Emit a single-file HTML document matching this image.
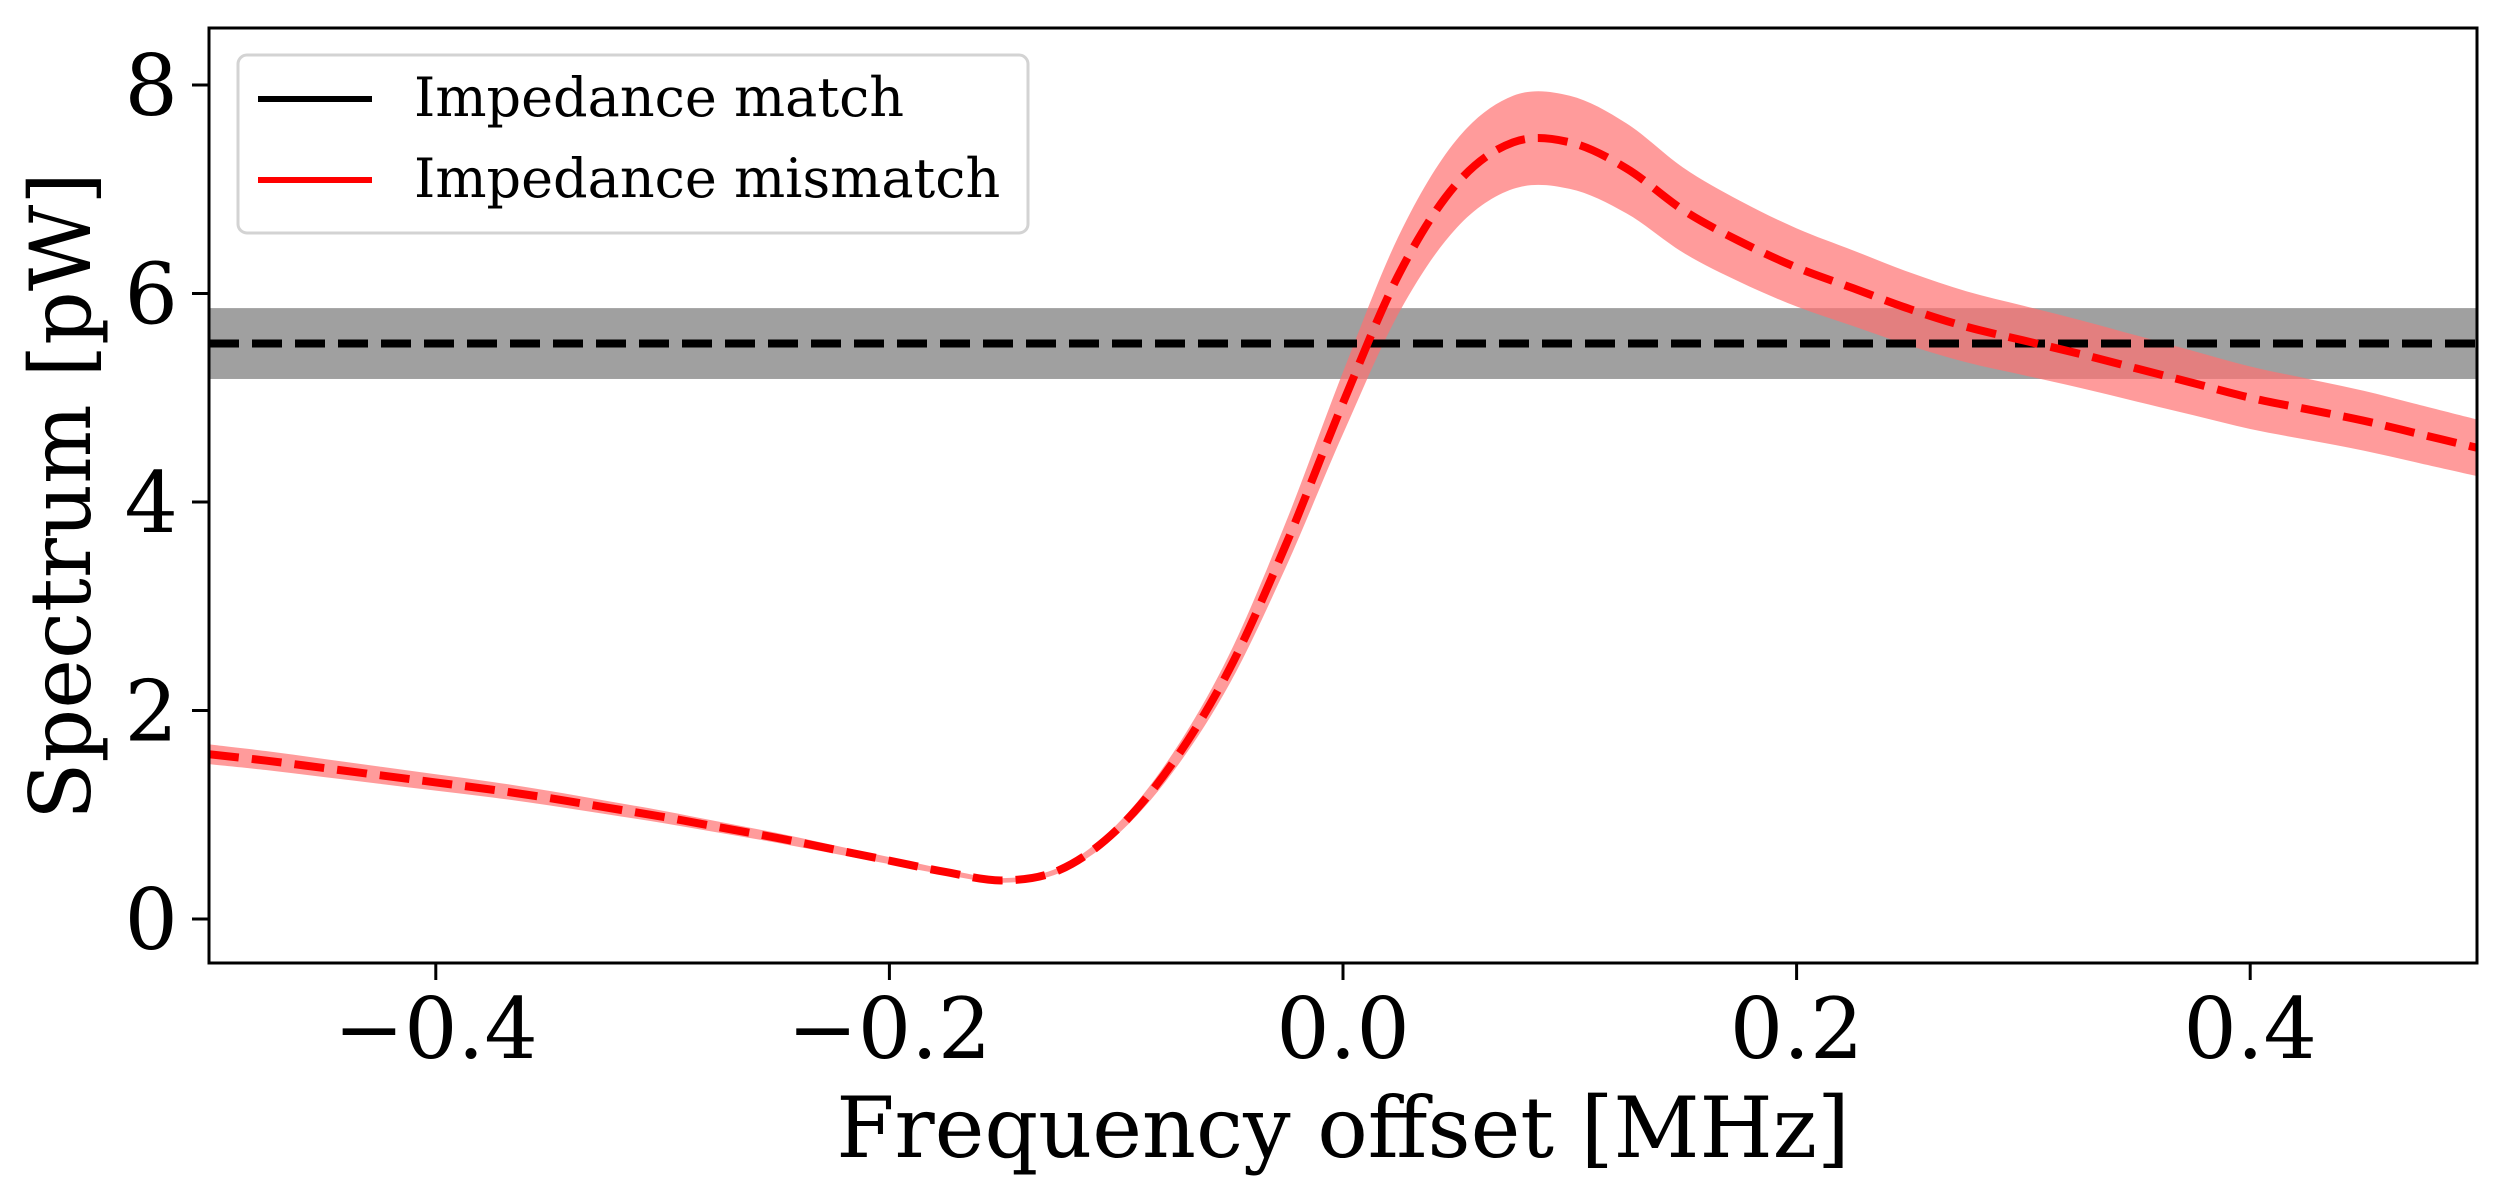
<!DOCTYPE html>
<html><head><meta charset="utf-8">
<style>
html,body{margin:0;padding:0;background:#fff;}
svg{display:block;}
text{font-family:"DejaVu Serif","Liberation Serif",serif;fill:#000;}
</style></head>
<body>
<svg id="chart" width="2507" height="1195" viewBox="0 0 2507 1195" xmlns="http://www.w3.org/2000/svg">
  <g id="plot"></g>
  <g id="axes"></g>
  <text x="1343" y="1157" font-size="84" text-anchor="middle">Frequency offset [MHz]</text>
  <text x="0" y="0" font-size="84" text-anchor="middle" transform="translate(90,496) rotate(-90)">Spectrum [pW]</text>
  <g>
    <rect x="238" y="55" width="790" height="178" rx="9" fill="#fff" fill-opacity="0.8" stroke="#d3d3d3" stroke-width="3"/>
    <line x1="258" y1="99" x2="372" y2="99" stroke="#000" stroke-width="6"/>
    <text x="414" y="116" font-size="54">Impedance match</text>
    <line x1="258" y1="180" x2="372" y2="180" stroke="#ff0000" stroke-width="6"/>
    <text x="414" y="197" font-size="54">Impedance mismatch</text>
  </g>
</svg>
<script>
const freqs = [-0.5,-0.475,-0.45,-0.425,-0.4,-0.375,-0.35,-0.325,-0.3,-0.275,-0.25,-0.225,-0.2,-0.175,-0.15,-0.125,-0.1,-0.075,-0.05,-0.025,0,0.025,0.05,0.075,0.1,0.125,0.15,0.175,0.2,0.225,0.25,0.275,0.3,0.325,0.35,0.375,0.4,0.425,0.45,0.475,0.5];
const mismatchValues = [1.58,1.52,1.45,1.38,1.31,1.24,1.16,1.07,0.98,0.88,0.78,0.67,0.56,0.45,0.37,0.47,0.85,1.5,2.4,3.6,4.95,6.2,7.05,7.45,7.45,7.2,6.8,6.5,6.25,6.05,5.85,5.68,5.55,5.42,5.28,5.14,5.0,4.89,4.78,4.65,4.52];
const matchLevel = [5.52];
const matchNoise = [0.34];
const mismatchNoiseFrac = [0.06];
const xTicks = [-0.4,-0.2,0.0,0.2,0.4];
const xTickLabels = ["\u22120.4","\u22120.2","0.0","0.2","0.4"];
const yTicks = [0,2,4,6,8];
const yTickLabels = ["0","2","4","6","8"];

const L=209,R=2477,T=28,B=963;
const X = f => 1343 + f*2268;
const Y = v => 919 - v*104.25;
const NS="http://www.w3.org/2000/svg";
const plot=document.getElementById('plot'), axes=document.getElementById('axes');
function mk(tag,attrs,parent){const e=document.createElementNS(NS,tag);for(const k in attrs)e.setAttribute(k,attrs[k]);parent.appendChild(e);return e;}

function smooth(pts){
  let d=`M${pts[0][0]},${pts[0][1]}`;
  for(let i=0;i<pts.length-1;i++){
    const p0=pts[Math.max(0,i-1)],p1=pts[i],p2=pts[i+1],p3=pts[Math.min(pts.length-1,i+2)];
    const c1=[p1[0]+(p2[0]-p0[0])/6,p1[1]+(p2[1]-p0[1])/6];
    const c2=[p2[0]-(p3[0]-p1[0])/6,p2[1]-(p3[1]-p1[1])/6];
    d+=` C${c1[0]},${c1[1]} ${c2[0]},${c2[1]} ${p2[0]},${p2[1]}`;
  }
  return d;
}

const cp=mk('clipPath',{id:'clip'},mk('defs',{},plot));
mk('rect',{x:L,y:T,width:R-L,height:B-T},cp);
const g=mk('g',{'clip-path':'url(#clip)'},plot);

const band=mk('rect',{x:L,y:Y(matchLevel[0]+matchNoise[0]),width:R-L,height:Y(matchLevel[0]-matchNoise[0])-Y(matchLevel[0]+matchNoise[0]),fill:'#808080','fill-opacity':0.75},g);



const up=freqs.map((f,i)=>[X(f),Y(mismatchValues[i]*(1+mismatchNoiseFrac[0]))]);
const dn=freqs.map((f,i)=>[X(f),Y(mismatchValues[i]*(1-mismatchNoiseFrac[0]))]).reverse();
const rb=mk('path',{d:smooth(up)+' L'+smooth(dn).slice(1)+' Z',fill:'#ff7070','fill-opacity':0.7},g);



const ml=mk('line',{x1:L,x2:R,y1:Y(matchLevel[0]),y2:Y(matchLevel[0]),stroke:'#000','stroke-width':8,'stroke-dasharray':'30 13'},g);



const rl=mk('path',{d:smooth(freqs.map((f,i)=>[X(f),Y(mismatchValues[i])])),fill:'none',stroke:'#ff0000','stroke-width':8,'stroke-dasharray':'30 13'},g);



const fr=mk('rect',{x:L,y:T,width:R-L,height:B-T,fill:'none',stroke:'#000','stroke-width':3},axes);



xTicks.forEach((t,i)=>{
  const tk=mk('line',{x1:X(t),x2:X(t),y1:B,y2:B+17,stroke:'#000','stroke-width':3},axes);
  
  
  const tl=mk('text',{x:X(t),y:1058,'font-size':84,'text-anchor':'middle'},axes);
  tl.textContent=xTickLabels[i];
  
  
});
yTicks.forEach((t,i)=>{
  const tk=mk('line',{x1:L-17,x2:L,y1:Y(t),y2:Y(t),stroke:'#000','stroke-width':3},axes);
  
  
  const tl=mk('text',{x:178,y:Y(t)+30,'font-size':84,'text-anchor':'end'},axes);
  tl.textContent=yTickLabels[i];
  
  
});
</script>
</body></html>
